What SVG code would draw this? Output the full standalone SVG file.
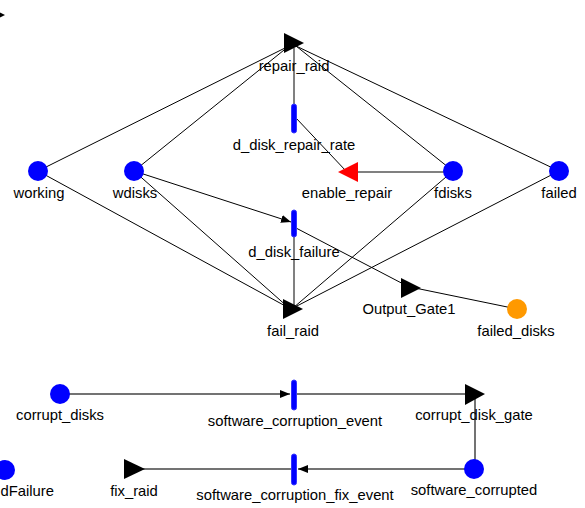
<svg xmlns="http://www.w3.org/2000/svg" width="585" height="508" viewBox="0 0 585 508">
<defs>
<style>
text{font-family:"Liberation Sans",Arial,sans-serif;font-size:14.8px;fill:#000;text-anchor:middle}
.place{fill:#0000ff}
.bar{fill:#0000ff;stroke:#3333ff;stroke-width:1}
.gate{fill:#000}
.arc{stroke:#000;stroke-width:1;fill:none}
.gline{stroke:#808080;stroke-width:2;fill:none}
.dline{stroke:#444;stroke-width:1.5;fill:none}
</style>
<marker id="ah" viewBox="0 0 10 10" refX="10" refY="5" markerWidth="10" markerHeight="10" markerUnits="userSpaceOnUse" orient="auto">
<path d="M0,1 L10,5 L0,9 z" fill="#000"/>
</marker>
</defs>
<rect width="585" height="508" fill="#fff"/>
<g id="connectors">
<line class="arc" x1="38" y1="171" x2="289" y2="46"/>
<line class="arc" x1="38" y1="171" x2="289" y2="308"/>
<line class="arc" x1="134" y1="171" x2="289" y2="46"/>
<line class="arc" x1="134" y1="171" x2="289" y2="308"/>
<line class="arc" x1="134" y1="171" x2="291" y2="222" marker-end="url(#ah)"/>
<line class="arc" x1="453" y1="171" x2="296" y2="46"/>
<line class="arc" x1="453" y1="171" x2="293" y2="308"/>
<line class="arc" x1="559" y1="171" x2="296" y2="46"/>
<line class="arc" x1="559" y1="171" x2="293" y2="308"/>
<line class="gline" x1="294" y1="48" x2="294" y2="104"/>
<line class="gline" x1="453" y1="172" x2="350" y2="172"/>
<line class="gline" x1="294" y1="236" x2="294" y2="306"/>
<line class="arc" x1="296" y1="118" x2="346" y2="171"/>
<line class="arc" x1="296" y1="228" x2="411" y2="288"/>
<line class="arc" x1="415" y1="288" x2="517" y2="309"/>
<line class="dline" x1="60" y1="394" x2="290" y2="394" marker-end="url(#ah)"/>
<line class="dline" x1="294" y1="394" x2="474" y2="394"/>
<line class="dline" x1="475" y1="394" x2="475" y2="469"/>
<line class="dline" x1="474" y1="469" x2="298" y2="469" marker-end="url(#ah)"/>
<line class="dline" x1="294" y1="469" x2="140" y2="469"/>
</g>
<g id="partial_gate"><polygon class="gate" points="-15,5 5,15 -15,25"/></g>
<g id="repair_raid"><polygon class="gate" points="284,33 304,43 284,53"/><text x="294" y="71">repair_raid</text></g>
<g id="d_disk_repair_rate"><rect class="bar" x="291.5" y="104" width="5" height="29" rx="2.5"/><text x="294" y="150">d_disk_repair_rate</text></g>
<g id="enable_repair"><polygon fill="#ff0000" points="338,172 358,162 358,182"/><text x="347" y="198">enable_repair</text></g>
<g id="working"><circle class="place" cx="38" cy="171" r="10"/><text x="39" y="198">working</text></g>
<g id="wdisks"><circle class="place" cx="134" cy="171" r="10"/><text x="135" y="198">wdisks</text></g>
<g id="fdisks"><circle class="place" cx="453" cy="171" r="10"/><text x="453" y="198">fdisks</text></g>
<g id="failed"><circle class="place" cx="559" cy="171" r="10"/><text x="559" y="198">failed</text></g>
<g id="d_disk_failure"><rect class="bar" x="291.5" y="210" width="5" height="27" rx="2.5"/><text x="294" y="257">d_disk_failure</text></g>
<g id="fail_raid"><polygon class="gate" points="283,299 303,309 283,319"/><text x="293" y="336">fail_raid</text></g>
<g id="Output_Gate1"><polygon class="gate" points="401,278 421,288 401,298"/><text x="409" y="314">Output_Gate1</text></g>
<g id="failed_disks"><circle cx="517" cy="309" r="10" fill="#ff9900"/><text x="516" y="336">failed_disks</text></g>
<g id="corrupt_disks"><circle class="place" cx="60" cy="394" r="10"/><text x="60" y="420">corrupt_disks</text></g>
<g id="software_corruption_event"><rect class="bar" x="291.5" y="380" width="5" height="30" rx="2.5"/><text x="295" y="426">software_corruption_event</text></g>
<g id="corrupt_disk_gate"><polygon class="gate" points="465,384 485,394 465,405"/><text x="474" y="420">corrupt_disk_gate</text></g>
<g id="dFailure"><circle class="place" cx="5" cy="470" r="10"/><text x="54" y="496" style="text-anchor:end">dFailure</text></g>
<g id="fix_raid"><polygon class="gate" points="124,459 145,469 124,479"/><text x="134" y="496">fix_raid</text></g>
<g id="software_corruption_fix_event"><rect class="bar" x="291.5" y="454" width="5" height="31" rx="2.5"/><text x="295" y="500">software_corruption_fix_event</text></g>
<g id="software_corrupted"><circle class="place" cx="474" cy="469" r="10"/><text x="474" y="495">software_corrupted</text></g>
</svg>
